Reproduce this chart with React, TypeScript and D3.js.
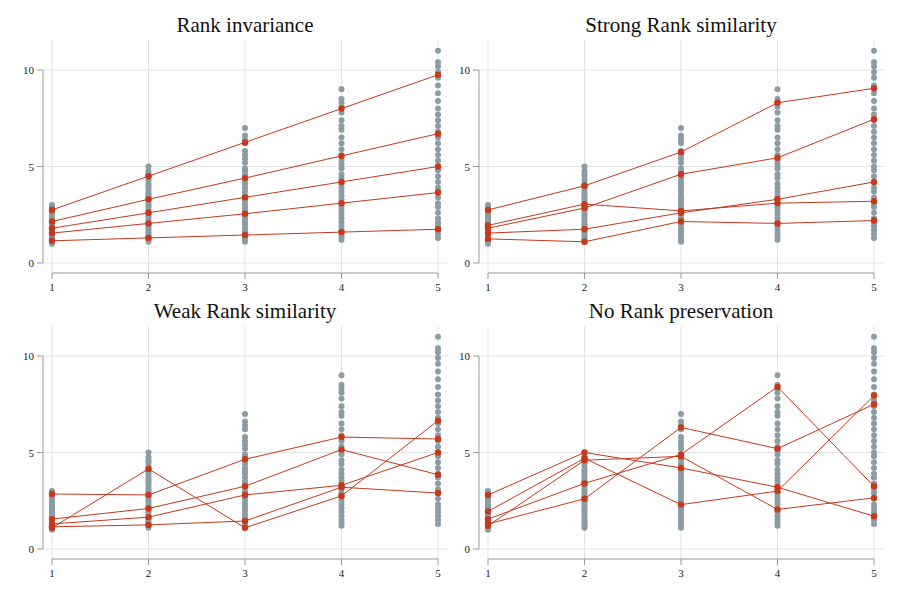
import React from "react";
import * as d3 from "d3";

const xValues = [1, 2, 3, 4, 5];
const yTicks = [0, 5, 10];
const titles = ["Rank invariance", "Strong Rank similarity", "Weak Rank similarity", "No Rank preservation"];

// gray background observations per period
const cloud1 = [1.0, 1.1, 1.15, 1.2, 1.3, 1.35, 1.4, 1.5, 1.55, 1.6, 1.7, 1.75, 1.8, 1.9, 2.0, 2.05, 2.1, 2.2, 2.3, 2.4, 2.5, 2.6, 2.7, 2.8, 2.9, 3.0];
const cloud2 = [1.1, 1.2, 1.3, 1.4, 1.5, 1.6, 1.75, 1.9, 2.0, 2.1, 2.25, 2.4, 2.5, 2.6, 2.75, 2.9, 3.0, 3.1, 3.25, 3.4, 3.5, 3.6, 3.75, 3.9, 4.0, 4.1, 4.3, 4.5, 4.6, 4.75, 5.0];
const cloud3 = [1.1, 1.2, 1.35, 1.5, 1.65, 1.8, 2.0, 2.15, 2.3, 2.5, 2.7, 2.85, 3.0, 3.2, 3.35, 3.5, 3.7, 3.9, 4.05, 4.2, 4.4, 4.6, 4.75, 4.9, 5.2, 5.4, 5.6, 5.8, 6.2, 6.4, 6.6, 7.0];
const cloud4 = [1.2, 1.35, 1.5, 1.7, 1.9, 2.1, 2.3, 2.5, 2.7, 2.9, 3.1, 3.3, 3.5, 3.7, 3.9, 4.1, 4.4, 4.6, 4.9, 5.1, 5.3, 5.6, 5.9, 6.2, 6.5, 6.9, 7.1, 7.4, 7.8, 8.1, 8.3, 8.5, 9.0];
const cloud5 = [1.3, 1.5, 1.7, 1.9, 2.1, 2.3, 2.6, 2.9, 3.1, 3.4, 3.7, 3.9, 4.2, 4.5, 4.8, 5.0, 5.3, 5.6, 5.9, 6.2, 6.5, 6.8, 7.1, 7.4, 7.7, 8.0, 8.4, 8.8, 9.2, 9.6, 9.9, 10.2, 10.4, 11.0];
const clouds = [cloud1, cloud2, cloud3, cloud4, cloud5];

// highlighted individuals: one array per panel, each row = values at x 1..5
const rankInvariance = [
  [2.75, 4.5, 6.25, 8.0, 9.75],
  [2.15, 3.3, 4.4, 5.55, 6.7],
  [1.8, 2.6, 3.4, 4.2, 5.0],
  [1.55, 2.05, 2.55, 3.1, 3.65],
  [1.15, 1.3, 1.45, 1.6, 1.75],
];
const strongSimilarity = [
  [2.75, 4.0, 5.75, 8.3, 9.05],
  [1.8, 2.85, 4.6, 5.45, 7.45],
  [1.55, 1.75, 2.6, 3.3, 4.2],
  [1.95, 3.05, 2.7, 3.1, 3.2],
  [1.25, 1.1, 2.15, 2.05, 2.2],
];
const weakSimilarity = [
  [2.85, 2.8, 4.65, 5.8, 5.7],
  [1.1, 4.15, 1.1, 2.75, 6.65],
  [1.55, 2.1, 3.25, 5.15, 3.85],
  [1.3, 1.65, 2.8, 3.3, 5.0],
  [1.15, 1.25, 1.45, 3.2, 2.9],
];
const noPreservation = [
  [2.8, 5.0, 4.2, 3.2, 1.7],
  [1.95, 4.7, 2.3, 3.0, 7.95],
  [1.55, 3.4, 4.9, 8.4, 3.25],
  [1.3, 2.6, 6.3, 5.2, 7.5],
  [1.2, 4.6, 4.8, 2.05, 2.65],
];
const panelLines = [rankInvariance, strongSimilarity, weakSimilarity, noPreservation];

const RED = "#c8381c";
const GRAY = "#8a9ca4";
const FONT = "'Liberation Serif', 'DejaVu Serif', serif";

function Panel({ idx, ox, oy }: { idx: number; ox: number; oy: number }) {
  const x = d3.scaleLinear().domain([1, 5]).range([ox + 52, ox + 438]);
  const y = d3.scaleLinear().domain([0, 10]).range([oy + 263, oy + 70]);
  const line = d3.line<number>().x((_, i) => x(xValues[i])).y((d) => y(d));
  const axisY = oy + 273;
  return (
    <g>
      <text x={ox + 245} y={oy + 32} textAnchor="middle" fontSize={21} fontFamily={FONT} fill="#111">
        {titles[idx]}
      </text>
      {xValues.map((v) => (
        <line key={"gx" + v} x1={x(v)} x2={x(v)} y1={oy + 40} y2={axisY} stroke="#e3e3e3" />
      ))}
      {yTicks.map((t) => (
        <line key={"gy" + t} x1={ox + 43} x2={ox + 448} y1={y(t)} y2={y(t)} stroke="#e3e3e3" />
      ))}
      <line x1={ox + 43} x2={ox + 43} y1={y(10)} y2={y(0)} stroke="#999" />
      {yTicks.map((t) => (
        <g key={"ty" + t}>
          <line x1={ox + 37} x2={ox + 43} y1={y(t)} y2={y(t)} stroke="#999" />
          <text x={ox + 34} y={y(t) + 4} textAnchor="end" fontSize={11} fontFamily={FONT} fill="#222">{t}</text>
        </g>
      ))}
      <line x1={x(1)} x2={x(5)} y1={axisY} y2={axisY} stroke="#999" />
      {xValues.map((v) => (
        <g key={"tx" + v}>
          <line x1={x(v)} x2={x(v)} y1={axisY} y2={axisY + 6} stroke="#999" />
          <text x={x(v)} y={axisY + 18} textAnchor="middle" fontSize={11} fontFamily={FONT} fill="#222">{v}</text>
        </g>
      ))}
      {clouds.map((c, i) =>
        c.map((v, j) => <circle key={`c${i}-${j}`} cx={x(xValues[i])} cy={y(v)} r={3} fill={GRAY} />)
      )}
      {panelLines[idx].map((row, i) => (
        <path key={"l" + i} d={line(row) || ""} fill="none" stroke={RED} strokeWidth={1} />
      ))}
      {panelLines[idx].map((row, i) =>
        row.map((v, j) => <circle key={`p${i}-${j}`} cx={x(xValues[j])} cy={y(v)} r={3.2} fill={RED} />)
      )}
    </g>
  );
}

export default function App() {
  return (
    <svg width={900} height={600} style={{ position: "absolute", left: 0, top: 0, background: "#fff" }}>
      <rect width={900} height={600} fill="#fff" />
      <Panel idx={0} ox={0} oy={0} />
      <Panel idx={1} ox={436} oy={0} />
      <Panel idx={2} ox={0} oy={286} />
      <Panel idx={3} ox={436} oy={286} />
    </svg>
  );
}
